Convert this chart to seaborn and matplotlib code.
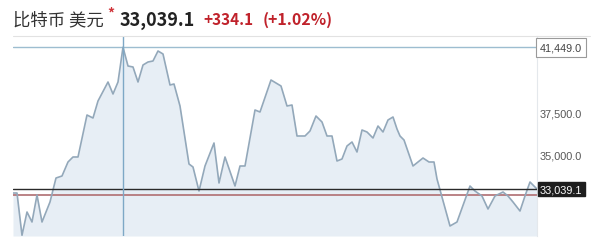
import matplotlib
matplotlib.use("Agg")
import matplotlib.pyplot as plt
import seaborn as sns
import pandas as pd

# ---- data ----
t_index = [0, 4, 9, 14, 19, 24, 29, 37, 43, 49, 55, 60, 65, 74, 80, 85, 95, 100, 105, 110,
           115, 120, 125, 130, 135, 140, 145, 150, 157, 161, 167, 176, 180, 186, 192, 201,
           206, 212, 222, 227, 232, 242, 247, 258, 268, 274, 279, 284, 292, 297, 303, 309,
           314, 319, 324, 329, 334, 339, 344, 349, 354, 360, 365, 370, 375, 380, 384, 387,
           391, 400, 410, 416, 421, 424, 437, 444, 457, 462, 469, 475, 482, 490, 495, 500,
           507, 512, 517, 524]
price = [32806, 32806, 30300, 31679, 31086, 32687, 31086, 32272, 33695, 33814, 34644, 34941,
         34941, 37431, 37253, 38262, 39388, 38677, 39388, 41449, 40337, 40278, 39388, 40396,
         40574, 40634, 41227, 41049, 39210, 39270, 37965, 34526, 34348, 32924, 34407, 35771,
         33399, 34941, 33221, 34407, 34407, 37728, 37609, 39507, 39151, 37965, 38024, 36186,
         36186, 36483, 37372, 37016, 36186, 36186, 34703, 34822, 35593, 35830, 35237, 36542,
         36423, 36067, 36779, 36423, 37135, 37313, 36601, 36186, 35949, 34407, 34881, 34644,
         34644, 33636, 30849, 31086, 33221, 32924, 32628, 31857, 32628, 32865, 32628, 32272,
         31738, 32628, 33458, 33039.1]
high_value = 41449.0
last_value = 33039.1
prev_close = 32705.0
tick_values = [37500.0, 35000.0]
peak_t = 110

title_name = "比特币 美元"
title_price = "33,039.1"
title_change = "+334.1"
title_pct = "(+1.02%)"

df = pd.DataFrame({"t": t_index, "price": price})

# ---- figure ----
W, H = 598, 251
sns.set_theme(style="white")
plt.rcParams["font.family"] = ["Noto Sans CJK SC", "DejaVu Sans"]

fig = plt.figure(figsize=(W / 100, H / 100), dpi=100)
fig.patch.set_facecolor("white")

def fx(x):
    return x / W

def fy(y):
    return 1 - y / H

ax_l, ax_r, ax_t, ax_b = 13, 537, 37, 237
ax = fig.add_axes([fx(ax_l), fy(ax_b), (ax_r - ax_l) / W, (ax_b - ax_t) / H])
ymin, ymax = 30256, 42116
ax.set_xlim(0, 524)
ax.set_ylim(ymin, ymax)

line_col = "#93a8ba"
ax.fill_between(df["t"], df["price"], ymin, color="#e7eef5", linewidth=0, zorder=1)
sns.lineplot(data=df, x="t", y="price", ax=ax, color=line_col, linewidth=1.2, zorder=3)

ax.axhline(high_value, color="#9dbdd0", linewidth=1.0, zorder=2)
ax.axhline(prev_close, color="#b5787c", linewidth=1.3, zorder=2)
ax.axhline(last_value, color="#2a2a2a", linewidth=1.0, zorder=4)
ax.axvline(peak_t, color="#7ea8c6", linewidth=1.0, zorder=4)

for s in ["top", "left", "bottom"]:
    ax.spines[s].set_visible(False)
ax.spines["right"].set_color("#e4e8ec")
ax.spines["right"].set_linewidth(0.8)
ax.set_xticks([])
ax.set_yticks([])
ax.set_xlabel("")
ax.set_ylabel("")
ax.patch.set_alpha(0)

# header separator
fig.add_artist(plt.Line2D([fx(13), fx(590)], [fy(36.5), fy(36.5)], color="#e2e2e2", linewidth=0.8))

# header texts
fig.text(fx(13), fy(20), title_name, fontsize=12.5, color="#333333", va="center", ha="left")
fig.text(fx(107), fy(14), "*", fontsize=10, color="#d0343a", va="center", ha="left", fontweight="bold")
fig.text(fx(120), fy(20), title_price, fontsize=13, color="#222222", va="center", ha="left",
         fontweight="bold")
fig.text(fx(203), fy(20), title_change, fontsize=11, color="#c0222b", va="center", ha="left",
         fontweight="bold")
fig.text(fx(263), fy(20), title_pct, fontsize=11.5, color="#c0222b", va="center", ha="left",
         fontweight="bold")

# right-side labels via data transform
trans = matplotlib.transforms.blended_transform_factory(fig.transFigure, ax.transData)
for v in tick_values:
    fig.text(fx(540), v, f"{v:,.1f}", transform=trans, fontsize=7.8, color="#555555",
             va="center", ha="left", family=["Liberation Sans", "DejaVu Sans"])
fig.text(fx(540), high_value, f"{high_value:,.1f}", transform=trans, fontsize=7.8, color="#444444",
         va="center", ha="left", family=["Liberation Sans", "DejaVu Sans"],
         bbox=dict(boxstyle="square,pad=0.4", facecolor="white", edgecolor="#9a9a9a", linewidth=0.8))
fig.text(fx(540), last_value, f"{last_value:,.1f}", transform=trans, fontsize=7.8, color="white",
         va="center", ha="left", family=["Liberation Sans", "DejaVu Sans"],
         bbox=dict(boxstyle="square,pad=0.2", facecolor="#1e1e1e", edgecolor="#1e1e1e"))

fig.savefig("out.png", dpi=100)
